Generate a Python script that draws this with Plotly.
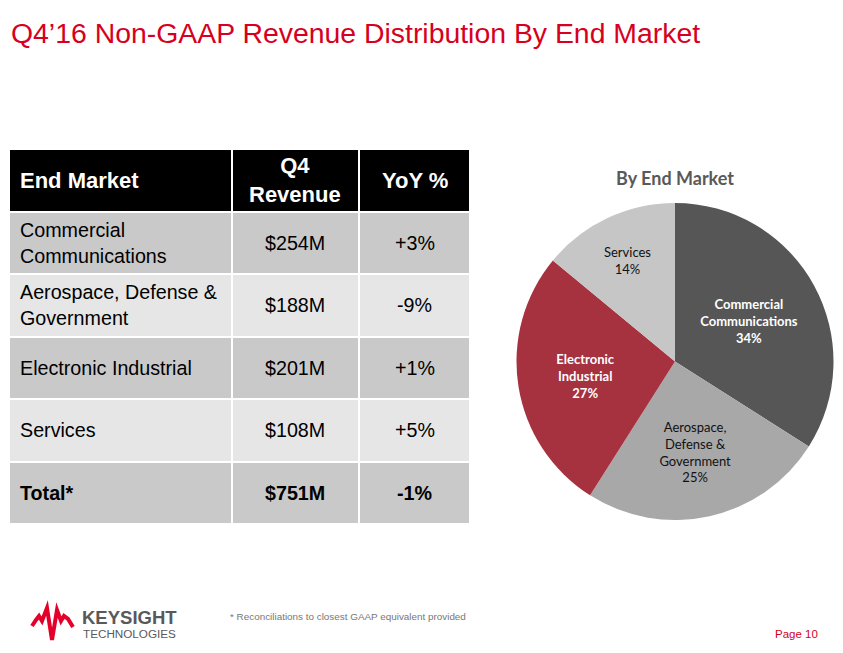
import plotly.graph_objects as go

W, H = 843, 653
OFF = 8  # page body margin offset of the rendered figure

# ---------------- data ----------------
markets = ["Commercial<br>Communications", "Aerospace, Defense &<br>Government",
           "Electronic Industrial", "Services"]
revenue = ["$254M", "$188M", "$201M", "$108M"]
yoy = ["+3%", "-9%", "+1%", "+5%"]
total_label = "Total*"
total_revenue = "$751M"
total_yoy = "-1%"
headers = ["End Market", "Q4<br>Revenue", "YoY %"]

pie_labels = ["Commercial<br>Communications", "Aerospace,<br>Defense &<br>Government",
              "Electronic<br>Industrial", "Services"]
pie_values = [34, 25, 27, 14]
pie_text = ["34%", "25%", "27%", "14%"]

# ---------------- styles ----------------
RED = "#d7001e"
col_edges = [0, 222.5, 350, 461]      # px inside table domain
n_rows = 6
row_shade = [0, 1, 2, 1, 2, 1]         # header, dark, light, ...
pie_colors = ["#565656", "#a8a8a8", "#a6313f", "#c6c6c6"]
pie_font_colors = ["#ffffff", "#111111", "#ffffff", "#111111"]
pie_bold = [True, False, True, False]

def px_x(p):
    return (p - OFF) / W

def px_y(p):
    return 1 - (p - OFF) / H

fig = go.Figure()

# table cells as heatmap bricks
z = [[s] * 3 for s in row_shade]
fig.add_trace(go.Heatmap(
    x=col_edges, y=list(range(n_rows + 1)), z=z,
    zmin=0, zmax=2,
    colorscale=[[0, "#000000"], [0.25, "#000000"], [0.25, "#c9c9c9"], [0.75, "#c9c9c9"],
                [0.75, "#e6e6e6"], [1, "#e6e6e6"]],
    showscale=False, xgap=2, ygap=2, hoverinfo="skip",
    xaxis="x", yaxis="y",
))

fig.update_layout(
    xaxis=dict(domain=[px_x(9), px_x(470)], range=[0, 461], visible=False, fixedrange=True),
    yaxis=dict(domain=[px_y(524), px_y(149)], range=[n_rows, 0], visible=False, fixedrange=True),
)

centers = [(col_edges[i] + col_edges[i + 1]) / 2 for i in range(3)]
ann = []
FONT = "Liberation Sans, Arial, sans-serif"

def cell(col, row, text, color="#000000", size=19.7, bold=False):
    t = f"<b>{text}</b>" if bold else text
    if col == 0:
        ann.append(dict(x=col_edges[0] + 8.5, y=row + 0.5, xref="x", yref="y", text=t,
                        xanchor="left", yanchor="middle", align="left", showarrow=False,
                        font=dict(family=FONT, size=size, color=color)))
    else:
        ann.append(dict(x=centers[col], y=row + 0.5, xref="x", yref="y", text=t,
                        xanchor="center", yanchor="middle", align="center", showarrow=False,
                        font=dict(family=FONT, size=size, color=color)))

for c, h in enumerate(headers):
    cell(c, 0, h, color="#ffffff", size=22, bold=True)
for r in range(len(markets)):
    cell(0, r + 1, markets[r])
    cell(1, r + 1, revenue[r])
    cell(2, r + 1, yoy[r])
cell(0, 5, total_label, bold=True)
cell(1, 5, total_revenue, bold=True)
cell(2, 5, total_yoy, bold=True)

# pie
cx, cy, rad = 675, 361.5, 158.5
display = [f"<b>{l}<br>{t}</b>" if b else f"{l}<br>{t}"
           for l, t, b in zip(pie_labels, pie_text, pie_bold)]
fig.add_trace(go.Pie(
    labels=pie_labels, values=pie_values, text=display,
    texttemplate="%{text}", textinfo="text",
    sort=False, direction="clockwise", rotation=0,
    marker=dict(colors=pie_colors, line=dict(width=0)),
    textposition="inside", insidetextorientation="horizontal",
    textfont=dict(family="Lato, sans-serif", size=13, color=pie_font_colors),
    domain=dict(x=[px_x(cx - rad), px_x(cx + rad)], y=[px_y(cy + rad), px_y(cy - rad)]),
    showlegend=False, hoverinfo="skip",
))
fig.update_layout(uniformtext=dict(minsize=13, mode="show"))

# titles and footer text
ann.append(dict(x=px_x(9), y=px_y(33), xref="paper", yref="paper", xanchor="left", yanchor="middle",
                text="Q4’16 Non-GAAP Revenue Distribution By End Market", showarrow=False,
                font=dict(family="Liberation Sans, Arial", size=28.4, color=RED)))
ann.append(dict(x=px_x(675), y=px_y(178), xref="paper", yref="paper", xanchor="center", yanchor="middle",
                text="<b>By End Market</b>", showarrow=False,
                font=dict(family="Lato, sans-serif", size=18, color="#595959")))
ann.append(dict(x=px_x(228), y=px_y(616), xref="paper", yref="paper", xanchor="left", yanchor="middle",
                text="* Reconciliations to closest GAAP equivalent provided", showarrow=False,
                font=dict(family="Liberation Sans, Arial", size=9.9, color="#777777")))
ann.append(dict(x=px_x(820), y=px_y(634), xref="paper", yref="paper", xanchor="right", yanchor="middle",
                text="Page 10", showarrow=False,
                font=dict(family="Liberation Sans, Arial", size=11.5, color=RED)))
ann.append(dict(x=px_x(80), y=px_y(617), xref="paper", yref="paper", xanchor="left", yanchor="middle",
                text="<b>KEYSIGHT</b>", showarrow=False,
                font=dict(family="Liberation Sans, Arial", size=18.5, color="#58595b")))
ann.append(dict(x=px_x(81), y=px_y(633), xref="paper", yref="paper", xanchor="left", yanchor="middle",
                text="TECHNOLOGIES", showarrow=False,
                font=dict(family="Liberation Sans, Arial", size=11.7, color="#58595b")))

# logo waveform (decorative)
logo_pts = [(32, 626), (36, 620), (39, 616), (42, 621), (47, 608), (52, 640),
            (57, 610), (61, 621), (64, 616), (68, 619), (73, 627)]
path = "M " + " L ".join(f"{px_x(x):.5f},{px_y(y):.5f}" for x, y in logo_pts)
shapes = [dict(type="path", xref="paper", yref="paper", path=path,
               line=dict(color="#e4002b", width=4))]

fig.update_layout(
    width=W, height=H, margin=dict(l=0, r=0, t=0, b=0),
    paper_bgcolor="#ffffff", plot_bgcolor="#ffffff",
    annotations=ann, shapes=shapes, showlegend=False,
)

fig.write_html("out.html")
